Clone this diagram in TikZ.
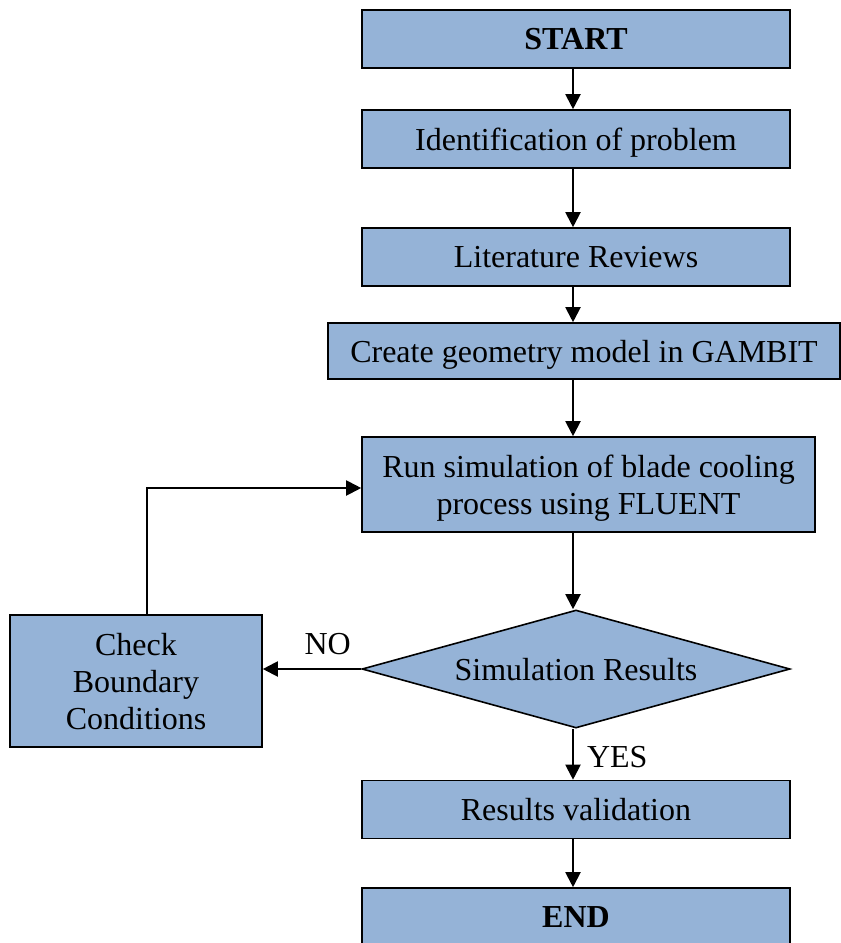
\documentclass[tikz,border=0pt]{standalone}
\usepackage{fontspec}
\setmainfont{Liberation Serif}
\usetikzlibrary{shapes.geometric,arrows.meta}
\definecolor{boxblue}{HTML}{95B3D7}

\tikzset{
  procbox/.style={draw=black, line width=1.6pt, fill=boxblue, inner sep=0pt,
    minimum width=428pt, minimum height=58pt, align=center, text depth=0pt,
    font=\fontsize{32}{37}\selectfont},
  decbox/.style={procbox, diamond, aspect=3.6, minimum height=118pt},
  arr/.style={line width=2pt, -{Triangle[length=15pt,width=15pt]}},
  lbl/.style={inner sep=0pt, font=\fontsize{32}{37}\selectfont},
}

\begin{document}
\begin{tikzpicture}[x=1pt,y=-1pt]
  \useasboundingbox (0,0) rectangle (841,943);

  \node[procbox] (start) at (576,39) {\textbf{START}};
  \node[procbox] (ident) at (576,139) {Identification of problem};
  \node[procbox] (lit) at (576,257) {Literature Reviews};
  \node[procbox, minimum width=512pt, minimum height=56pt] (gambit) at (584,351) {Create geometry model in GAMBIT};
  \node[procbox, minimum width=453pt, minimum height=95pt] (run) at (588.5,484.5) {Run simulation of blade cooling\\process using FLUENT};
  \node[decbox] (simres) at (576,669) {Simulation Results};
  \node[procbox, minimum width=252pt, minimum height=132pt] (check) at (136,681) {Check\\Boundary\\Conditions};
  \node[procbox] (valid) at (576,809.5) {Results validation};
  \node[procbox] (end) at (576,917) {\textbf{END}};

  % main line runs a little left of the box centres
  \coordinate (mid) at (573,0);
  \draw[arr] (start.south -| mid) -- (ident.north -| mid);
  \draw[arr] (ident.south -| mid) -- (lit.north -| mid);
  \draw[arr] (lit.south -| mid) -- (gambit.north -| mid);
  \draw[arr] (gambit.south -| mid) -- (run.north -| mid);
  \draw[arr] (run.south -| mid) -- (simres.north -| mid);
  \draw[arr] (simres.west) -- (simres.west -| check.east) node[lbl, pos=0.34, above=13pt] {NO};
  \draw[arr] ([xshift=11pt]check.north) |- ([yshift=-3.5pt]run.west);
  \draw[arr] (simres.south -| mid) -- (valid.north -| mid) node[lbl, pos=0.55, right=13pt] {YES};
  \draw[arr] (valid.south -| mid) -- (end.north -| mid);
\end{tikzpicture}
\end{document}
